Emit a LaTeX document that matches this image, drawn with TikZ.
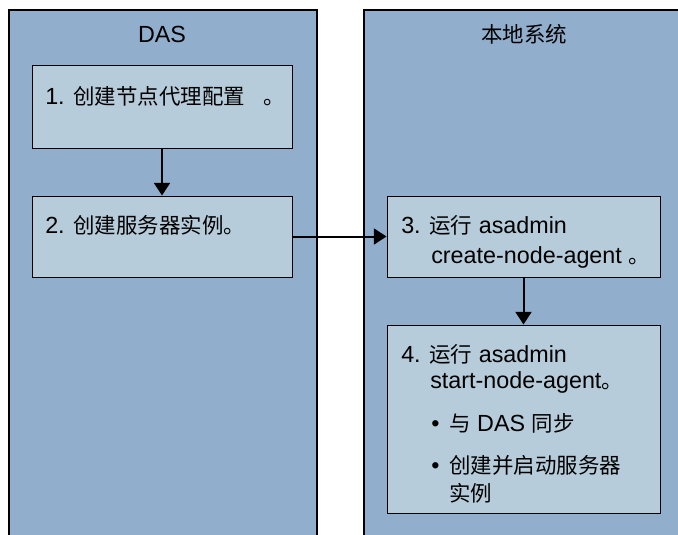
\documentclass[tikz,border=0pt]{standalone}
\usepackage{fontspec}
\setmainfont{Liberation Sans}
\newfontfamily\cjk[Scale=0.92]{Noto Sans CJK SC}
\usetikzlibrary{arrows.meta}
\definecolor{panelfill}{HTML}{92AECD}
\definecolor{boxfill}{HTML}{B6CCDA}
\begin{document}
\begin{tikzpicture}[x=0.75pt,y=-0.75pt,
  panel/.style={draw=black, line width=1.5pt, fill=panelfill, inner sep=0pt, anchor=north west},
  stepbox/.style={draw=black, line width=0.75pt, fill=boxfill, inner sep=0pt},
  lbl/.style={inner sep=0pt, anchor=base west, font=\fontsize{17.5}{20}\selectfont},
  title/.style={inner sep=0pt, anchor=base, font=\fontsize{17.5}{20}\selectfont},
  conn/.style={line width=1.5pt, -{Triangle[length=9.5pt,width=12pt]}}]
\useasboundingbox (0,0) rectangle (678,535);
\clip (0,0) rectangle (678,535);
\fill[white] (0,0) rectangle (678,535);
% panels
\node[panel, minimum width=231pt, minimum height=420pt] (dasp) at (8,9) {};
\node[panel, minimum width=255pt, minimum height=420pt] (locp) at (363,9) {};
\node[title] (dast) at (162,43) {DAS};
\node[title] (loct) at (524,43) {\cjk 本地系统};
% boxes
\node[stepbox, minimum width=195pt, minimum height=61.5pt] (b1) at (162,107) {};
\node[stepbox, minimum width=195pt, minimum height=60.75pt] (b2) at (162,236.5) {};
\node[stepbox, minimum width=204.75pt, minimum height=60.75pt] (b3) at (523.5,236.5) {};
\node[stepbox, minimum width=204.75pt, minimum height=141pt] (b4) at (523.5,419) {};
% texts
\node[lbl] (t1) at (45,104) {1. {\cjk 创建节点代理配置\hspace{0.85em}。}};
\node[lbl] (t2) at (45,233) {2. {\cjk 创建服务器实例。}};
\node[lbl] (t3a) at (401,233) {3. {\cjk 运行} asadmin};
\node[lbl] (t3b) at (431,263) {create-node-agent {\cjk 。}};
\node[lbl] (t4a) at (401,362) {4. {\cjk 运行} asadmin};
\node[lbl] (t4b) at (430,388) {start-node-agent{\cjk 。}};
\node[lbl] (bu1) at (431,431) {\textbullet};
\node[lbl] (t4c) at (449,431) {{\cjk 与} DAS {\cjk 同步}};
\node[lbl] (bu2) at (431,473) {\textbullet};
\node[lbl] (t4d) at (449,473) {\cjk 创建并启动服务器};
\node[lbl] (t4e) at (449,501) {\cjk 实例};
% connectors
\draw[conn] (b1.south) -- (b2.north);
\draw[conn] (b2.east) -- (b3.west);
\draw[conn] (b3.south) -- (b4.north);
\end{tikzpicture}
\end{document}
